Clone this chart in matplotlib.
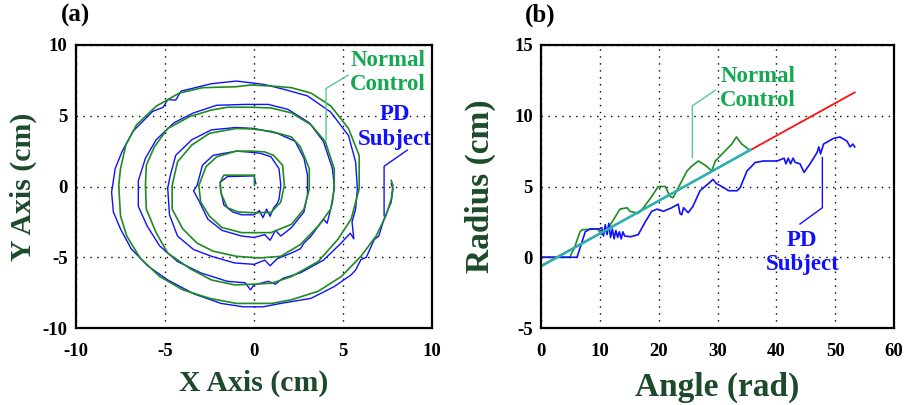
import matplotlib
matplotlib.use("Agg")
import matplotlib.pyplot as plt

# (a) spiral traces, x/y in cm
normal_x = [0.02, 0.02, -1.7, -1.9, -1.85, -1.5, -0.9, -0.1, 0.95, 1.5, 1.7, 1.6, 1.1, 0.58, -0.17,
            -1.0, -2.1, -2.7, -3.1, -3.0, -2.5, -1.8, -0.7, 0.95, 2.1, 2.8, 3.1, 3.1, 2.6, 2.1, 0.95,
            -0.17, -1.0, -2.5, -3.5, -4.3, -4.6, -4.6, -4.0, -3.2, -2.3, -1.0, 0.3, 1.5, 2.6, 3.6,
            4.3, 4.5, 4.5, 4.0, 3.2, 2.1, 0.95, -0.17, -1.5, -2.4, -3.6, -4.85, -5.6, -6.05, -6.1,
            -6.05, -5.5, -4.85, -3.6, -2.4, -1.1, 0.0, 1.0, 2.1, 3.6, 4.7, 5.45, 5.9, 5.9, 5.3, 4.3,
            3.2, 2.1, 0.95, -0.17, -1.0, -2.9, -4.2, -5.5, -6.6, -7.2, -7.5, -7.6, -7.5, -7.15,
            -6.4, -5.3, -4.0, -2.5, -1.0, 1.0, 2.1, 3.6, 4.9, 6.0, 6.85, 7.4, 7.7, 7.8, 7.7]
normal_y = [0.07, 0.8, 0.8, 0.3, -0.5, -1.5, -1.8, -1.85, -1.83, -1.1, 0.07, 1.5, 2.2, 2.45, 2.5,
            2.5, 2.1, 1.4, 0.07, -1.1, -2.1, -2.9, -3.26, -3.26, -2.67, -1.6, -0.17, 1.26, 2.8, 3.5,
            3.9, 4.07, 4.1, 3.76, 2.93, 1.74, 0.07, -1.6, -3.0, -4.0, -4.57, -4.93, -5.05, -4.93,
            -4.1, -2.8, -1.6, -0.17, 1.26, 3.17, 4.36, 5.2, 5.55, 5.6, 5.6, 5.4, 4.95, 4.1, 2.8,
            1.5, 0.07, -1.6, -3.26, -4.7, -5.8, -6.6, -6.95, -6.9, -6.83, -6.36, -5.3, -3.74, -2.3,
            -0.17, 2.2, 4.1, 5.7, 6.6, 6.98, 7.1, 7.17, 7.05, 6.98, 6.6, 5.67, 4.36, 2.93, 1.26,
            0.07, -2.07, -3.5, -5.05, -6.36, -7.3, -7.9, -8.26, -8.26, -8.0, -7.4, -6.36, -4.93,
            -3.5, -2.07, -0.9, 0.07, 0.43]

pd_x = [0.1, 0.0, -1.5, -1.9, -1.9, -1.7, -1.2, -0.7, 0.0, 0.3, 0.5, 0.7, 0.9, 1.1, 1.3, 1.4, 1.5,
        1.4, 0.95, 0.4, 0.0, -1.0, -2.3, -2.9, -3.2, -3.4, -3.1, -2.6, -1.8, -0.7, 0.0, 0.6, 0.9,
        1.2, 1.5, 2.1, 2.8, 3.0, 3.0, 2.8, 2.3, 1.3, 0.4, 0.0, -1.0, -2.4, -3.5, -4.4, -4.7, -4.85,
        -4.75, -4.3, -3.4, -2.4, -1.1, 0.0, 0.6, 0.9, 1.3, 2.1, 2.6, 2.8, 3.2, 3.9, 4.1, 4.4, 4.5,
        4.4, 3.9, 3.1, 1.9, 0.8, -0.5, -2.1, -3.4, -4.5, -5.5, -6.1, -6.5, -6.5, -6.0, -5.3, -4.3,
        -3.0, -1.5, -0.5, -0.2, 0.0, 0.8, 1.2, 1.6, 2.6, 3.9, 4.9, 5.4, 5.6, 5.5, 5.7, 5.8, 5.7,
        5.3, 4.3, 3.0, 1.7, 0.6, 0.0, -1.0, -2.4, -4.1, -4.4, -4.85, -5.1, -5.7, -6.8, -7.4, -7.8,
        -8.0, -7.9, -7.5, -6.9, -5.98, -4.85, -3.35, -1.85, -0.6, 0.5, 1.5, 3.2, 4.5, 5.45, 5.7,
        6.0, 6.3, 6.75, 7.0, 7.3, 7.7, 7.8, 7.7]
pd_y = [0.2, 0.75, 0.7, 0.3, -0.1, -1.3, -1.8, -2.0, -2.0, -1.7, -2.2, -1.6, -2.1, -1.5, -1.2,
        -0.9, 0.07, 1.26, 2.1, 2.33, 2.4, 2.5, 2.2, 1.5, 0.07, -0.3, -1.0, -2.3, -3.1, -3.5, -3.6,
        -3.4, -3.8, -3.1, -3.5, -2.9, -1.8, -0.6, 0.8, 2.0, 3.2, 3.76, 4.0, 4.1, 4.17, 4.0, 3.3,
        2.2, 0.8, -0.1, -2.0, -3.5, -4.45, -4.93, -5.4, -5.5, -5.2, -5.6, -5.1, -4.7, -4.4, -4.0,
        -3.5, -2.3, -2.6, -1.1, 0.07, 1.26, 3.17, 4.5, 5.45, 5.8, 5.8, 5.74, 5.2, 4.5, 3.3, 2.0,
        0.4, -1.4, -2.8, -4.2, -5.3, -6.1, -6.7, -6.8, -7.3, -6.95, -6.7, -6.9, -6.5, -6.1, -5.2,
        -3.98, -3.3, -3.7, -2.5, -1.6, -0.17, 1.74, 3.6, 5.26, 6.4, 6.86, 7.2, 7.3, 7.45, 7.26,
        6.74, 6.1, 6.14, 5.6, 5.3, 3.9, 2.5, 1.26, -0.4, -1.8, -3.0, -4.4, -5.6, -6.6, -7.6, -8.26,
        -8.5, -8.5, -8.26, -7.9, -7.07, -6.24, -5.9, -5.17, -5.0, -3.74, -3.5, -2.3, -1.1, -0.17, 0.2]

# (b) radius against unwrapped angle
normal_angle = [0, 4.9, 5.2, 5.6, 6.6, 7.0, 9.6, 10.3, 11.4, 13.4, 14.6, 15.1, 16.5, 17.4, 18.8,
                19.9, 21.1, 21.9, 22.4, 24.8, 25.5, 26.7, 27.9, 29.0, 29.6, 31.0, 32.4, 33.2,
                34.1, 35.2]
normal_radius = [0, 0, 0.3, 0.6, 1.8, 1.95, 2.0, 1.6, 2.05, 3.4, 3.5, 3.25, 3.1, 3.5, 4.3, 5.0,
                 5.0, 4.3, 4.2, 6.1, 6.4, 6.8, 6.5, 6.1, 6.8, 7.4, 8.0, 8.5, 8.0, 7.65]

pd_angle = [0, 6.1, 7.5, 8.3, 9.9, 10.3, 10.6, 10.9, 11.2, 11.5, 11.8, 12.1, 12.4, 12.7, 13.0,
            13.3, 13.6, 13.9, 14.2, 15.2, 16.5, 17.7, 18.8, 19.7, 20.8, 22.2, 23.3, 23.6, 23.9,
            24.2, 25.0, 25.8, 27.0, 28.7, 29.2, 29.8, 30.7, 31.9, 33.3, 33.8, 35.0, 36.4, 37.8,
            40.1, 41.3, 41.6, 42.0, 42.4, 42.8, 43.2, 44.0, 44.7, 45.7, 46.9, 47.2, 47.5, 48.0,
            49.7, 50.8, 52.0, 52.5, 53.0, 53.3]
pd_radius = [0, 0, 1.8, 2.0, 2.0, 2.1, 1.5, 2.3, 1.6, 2.4, 1.4, 2.0, 1.3, 1.9, 1.4, 1.8, 1.3, 1.8,
             1.5, 1.45, 1.6, 2.5, 3.25, 3.4, 3.25, 3.5, 3.75, 3.1, 3.0, 3.5, 3.15, 3.6, 4.7, 5.3,
             5.5, 5.2, 5.0, 4.7, 4.7, 4.9, 6.1, 6.7, 6.8, 6.8, 7.0, 6.6, 7.0, 6.6, 7.0, 6.7, 6.6,
             6.0, 6.6, 7.4, 7.8, 7.3, 8.0, 8.4, 8.5, 8.2, 7.8, 8.0, 7.8]

# ideal spiral (red) and fit to normal control (cyan)
ideal_angle = [0, 53.3]
ideal_radius = [-0.6, 11.65]
fit_angle = [0, 35.6]
fit_radius = [-0.64, 7.6]

GREEN = "#1e8c1e"
BLUE = "#1010ff"
TXT_GREEN = "#14a850"
LBL_GREEN = "#1d4a2b"
FONT = "Liberation Serif"


def style_axes(ax, xlim, ylim, ticks_x, ticks_y):
    ax.set_xlim(xlim)
    ax.set_ylim(ylim)
    ax.set_xticks(ticks_x)
    ax.set_yticks(ticks_y)
    ax.grid(True, color="black", linestyle=(0, (1, 4)), linewidth=1.0)
    ax.tick_params(length=0, labelsize=13.5)
    ax.tick_params(axis="x", pad=11)
    ax.tick_params(axis="y", pad=6)
    for lab in ax.get_xticklabels() + ax.get_yticklabels():
        lab.set_fontweight("bold")
        lab.set_family(FONT)
    for sp in ax.spines.values():
        sp.set_linewidth(1.6)


def label(ax, text, x, y, color):
    ax.text(x, y, text, color=color, fontsize=16.5, fontweight="bold", family=FONT,
            ha="center", va="center", linespacing=1.2)


def main():
    plt.rcParams["axes.unicode_minus"] = False
    fig = plt.figure(figsize=(9.11, 4.05), dpi=100)

    # (a) spirals
    ax1 = fig.add_axes([0.0834, 0.19, 0.391, 0.699])
    ax1.plot(pd_x, pd_y, color=BLUE, linewidth=1.0)
    ax1.plot(normal_x, normal_y, color=GREEN, linewidth=1.2)
    style_axes(ax1, (-10, 10), (-10, 10), [-10, -5, 0, 5, 10], [-10, -5, 0, 5, 10])
    ax1.plot([5.28, 4.04, 4.04], [7.86, 6.93, 3.29], color="#55cc88", linewidth=1.0)
    ax1.plot([8.6, 7.3, 7.3], [2.57, 1.43, -2.07], color=BLUE, linewidth=1.0)
    label(ax1, "Normal\nControl", 7.5, 8.05, TXT_GREEN)
    label(ax1, "PD\nSubject", 7.9, 4.2, BLUE)
    ax1.set_xlabel("X Axis (cm)", fontsize=21.5, fontweight="bold", family=FONT,
                   color=LBL_GREEN, va="center")
    ax1.set_ylabel("Y Axis (cm)", fontsize=21.5, fontweight="bold", family=FONT,
                   color=LBL_GREEN, va="center")
    ax1.xaxis.set_label_coords(0.5, -0.195)
    ax1.yaxis.set_label_coords(-0.149, 0.5)

    # (b) radius vs angle
    ax2 = fig.add_axes([0.594, 0.19, 0.3875, 0.699])
    ax2.plot(normal_angle, normal_radius, color=GREEN, linewidth=1.2)
    ax2.plot(pd_angle, pd_radius, color=BLUE, linewidth=1.2)
    ax2.plot(ideal_angle, ideal_radius, color="#ff1010", linewidth=1.3)
    ax2.plot(fit_angle, fit_radius, color="#22b5b5", linewidth=1.8)
    style_axes(ax2, (0, 60), (-5, 15), [0, 10, 20, 30, 40, 50, 60], [-5, 0, 5, 10, 15])
    ax2.plot([29.6, 25.7, 25.7], [11.8, 10.7, 7.05], color="#55cc88", linewidth=1.0)
    ax2.plot([44.0, 47.8, 47.8], [2.35, 3.5, 7.05], color=BLUE, linewidth=1.0)
    label(ax2, "Normal\nControl", 36.9, 11.95, TXT_GREEN)
    label(ax2, "PD\nSubject", 44.4, 0.35, BLUE)
    ax2.set_xlabel("Angle (rad)", fontsize=24, fontweight="bold", family=FONT,
                   color=LBL_GREEN, va="center")
    ax2.set_ylabel("Radius (cm)", fontsize=24, fontweight="bold", family=FONT,
                   color=LBL_GREEN, va="center")
    ax2.xaxis.set_label_coords(0.5, -0.209)
    ax2.yaxis.set_label_coords(-0.173, 0.5)

    fig.text(0.083, 0.963, "(a)", fontsize=18, fontweight="bold", family=FONT,
             ha="center", va="center")
    fig.text(0.593, 0.963, "(b)", fontsize=18, fontweight="bold", family=FONT,
             ha="center", va="center")

    fig.savefig("out.png", dpi=100)


if __name__ == "__main__":
    main()
